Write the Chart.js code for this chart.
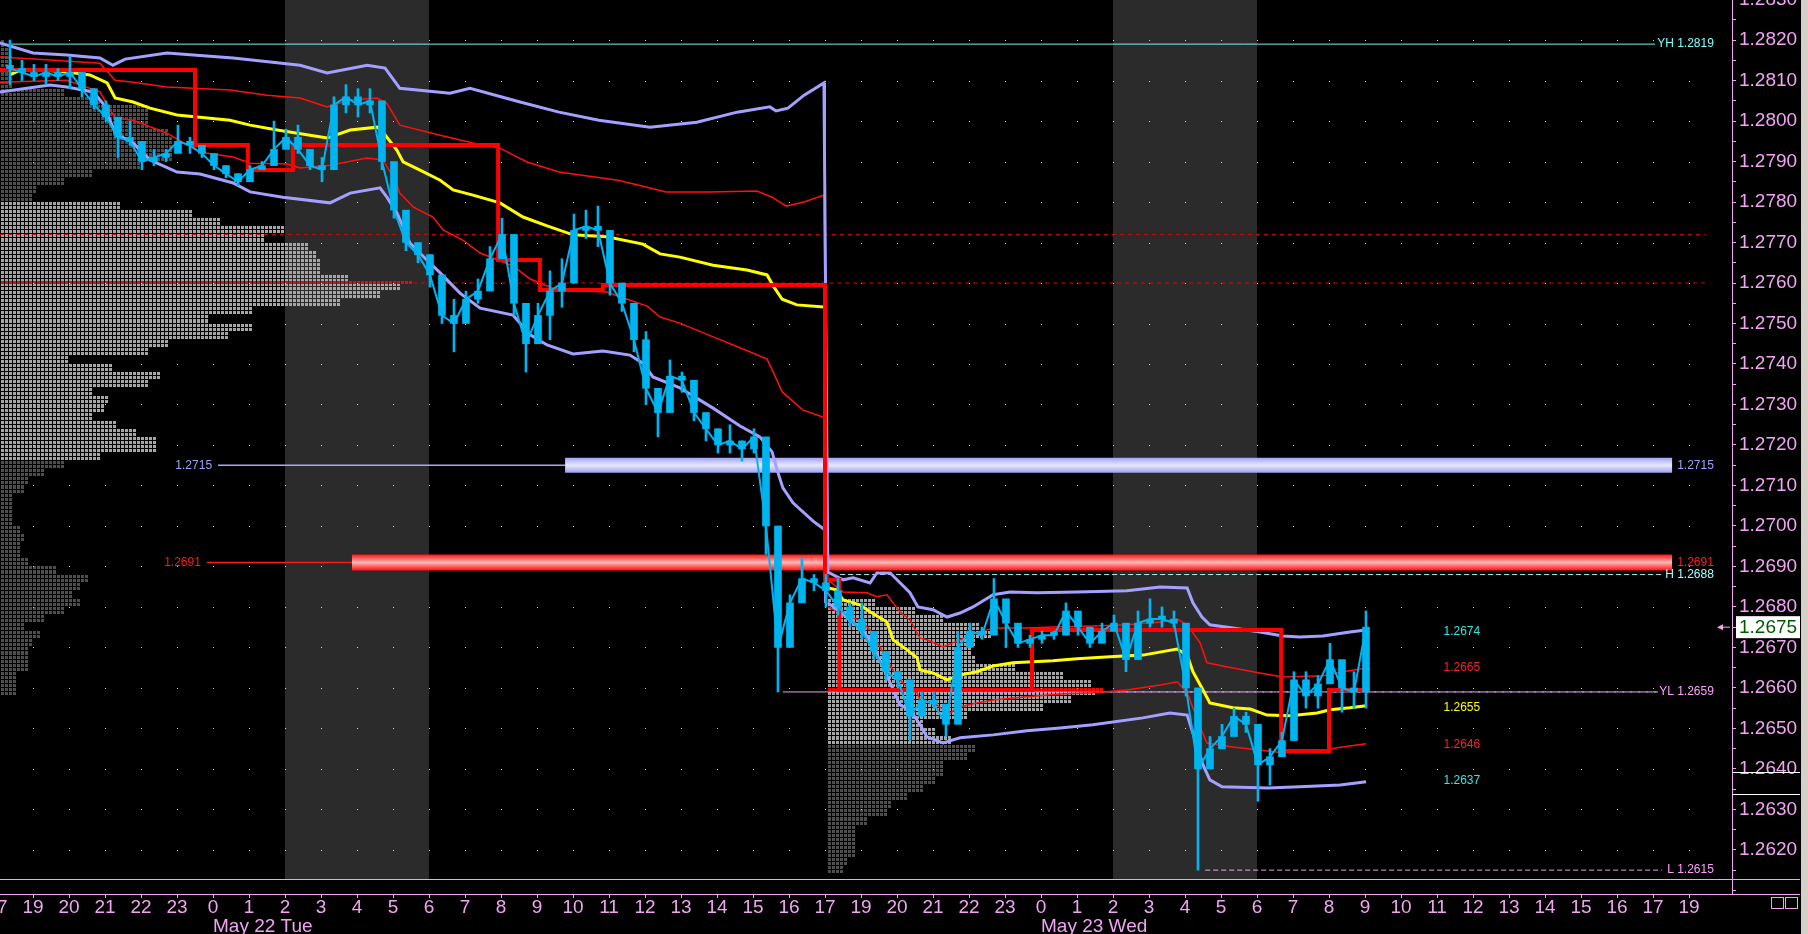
<!DOCTYPE html>
<html>
<head>
<meta charset="utf-8">
<title>EUR/USD session profile</title>
<script src="https://cdn.jsdelivr.net/npm/chart.js@4.4.1/dist/chart.umd.min.js"></script>
<style>
  html, body { margin: 0; padding: 0; background: #000; overflow: hidden; }
  canvas { display: block; }
</style>
</head>
<body>
<canvas id="chart" width="1808" height="934"></canvas>
<script>
// x axis is in hours from May 22 00:00; the 18:00 hour is skipped by the session
const hourLabels = ['17', '19', '20', '21', '22', '23',
  '0', '1', '2', '3', '4', '5', '6', '7', '8', '9', '10', '11', '12', '13', '14', '15', '16', '17',
  '19', '20', '21', '22', '23',
  '0', '1', '2', '3', '4', '5', '6', '7', '8', '9', '10', '11', '12', '13', '14', '15', '16', '17',
  '19'];
const firstHour = -6;
const dateLabels = ['May 22 Tue', 'May 23 Wed'];
const dateLabelHours = [0, 23];
const priceTicks = [1.2620, 1.2630, 1.2640, 1.2650, 1.2660, 1.2670, 1.2680, 1.2690, 1.2700, 1.2710, 1.2720,
  1.2730, 1.2740, 1.2750, 1.2760, 1.2770, 1.2780, 1.2790, 1.2800, 1.2810, 1.2820, 1.2830];
const shadedSessions = [[2, 6], [25, 29]];
const sessionBreak = 17;

// 20 minute bars
const barStartHour = -5.64;
const barStepHours = 1 / 3;
const barHighs = [
  1.2820, 1.2815, 1.2814, 1.2814, 1.2813, 1.2816, 1.2812, 1.2808, 1.2805, 1.2798,
  1.2800, 1.2795, 1.2793, 1.2793, 1.2799, 1.2796, 1.2794, 1.2791, 1.2789, 1.2787,
  1.2789, 1.2790, 1.2800, 1.2798, 1.2799, 1.2792, 1.2791, 1.2806, 1.2809, 1.2808,
  1.2808, 1.2800, 1.2781, 1.2774, 1.2769, 1.2767, 1.2760, 1.2756, 1.2758, 1.2761,
  1.2769, 1.2776, 1.2761, 1.2750, 1.2755, 1.2763, 1.2766, 1.2777, 1.2778, 1.2779,
  1.2766, 1.2759, 1.2750, 1.2748, 1.2730, 1.2741, 1.2738, 1.2734, 1.2728, 1.2724,
  1.2725, 1.2721, 1.2724, 1.2716, 1.2690, 1.2683, 1.2692, 1.2688, 1.2688, 1.2687,
  1.2681, 1.2681, 1.2672, 1.2668, 1.2664, 1.2659, 1.2659, 1.2659, 1.2655, 1.2674,
  1.2676, 1.2675, 1.2687, 1.2679, 1.2673, 1.2673, 1.2674, 1.2674, 1.2681, 1.2677,
  1.2674, 1.2676, 1.2678, 1.2670, 1.2679, 1.2682, 1.2680, 1.2679, 1.2670, 1.2652,
  1.2648, 1.2651, 1.2655, 1.2654, 1.2645, 1.2645, 1.2649, 1.2664, 1.2664, 1.2663,
  1.2671, 1.2665, 1.2664, 1.2679];
const barLows = [
  1.2809, 1.2810, 1.2810, 1.2809, 1.2810, 1.2808, 1.2806, 1.2803, 1.2800, 1.2791,
  1.2794, 1.2788, 1.2789, 1.2790, 1.2794, 1.2792, 1.2791, 1.2788, 1.2786, 1.2784,
  1.2786, 1.2788, 1.2789, 1.2794, 1.2792, 1.2788, 1.2785, 1.2800, 1.2802, 1.2801,
  1.2802, 1.2788, 1.2776, 1.2768, 1.2765, 1.2759, 1.2750, 1.2743, 1.2752, 1.2755,
  1.2760, 1.2766, 1.2752, 1.2738, 1.2748, 1.2746, 1.2754, 1.2766, 1.2771, 1.2769,
  1.2757, 1.2753, 1.2743, 1.2730, 1.2722, 1.2734, 1.2733, 1.2726, 1.2721, 1.2718,
  1.2718, 1.2716, 1.2718, 1.2693, 1.2659, 1.2678, 1.2684, 1.2684, 1.2680, 1.2678,
  1.2675, 1.2672, 1.2667, 1.2662, 1.2660, 1.2647, 1.2655, 1.2655, 1.2648, 1.2656,
  1.2672, 1.2672, 1.2678, 1.2670, 1.2670, 1.2670, 1.2671, 1.2672, 1.2677, 1.2673,
  1.2670, 1.2672, 1.2674, 1.2664, 1.2668, 1.2675, 1.2675, 1.2675, 1.2658, 1.2615,
  1.2643, 1.2645, 1.2650, 1.2649, 1.2632, 1.2636, 1.2645, 1.2647, 1.2655, 1.2655,
  1.2665, 1.2654, 1.2655, 1.2655];
const barCloses = [
  1.2813, 1.2812, 1.2811, 1.2812, 1.2811, 1.2812, 1.2808, 1.2804, 1.2801, 1.2796,
  1.2795, 1.2790, 1.2791, 1.2792, 1.2795, 1.2794, 1.2792, 1.2789, 1.2787, 1.2785,
  1.2788, 1.2789, 1.2793, 1.2796, 1.2793, 1.2789, 1.2788, 1.2804, 1.2806, 1.2804,
  1.2805, 1.2790, 1.2778, 1.2770, 1.2767, 1.2762, 1.2752, 1.2750, 1.2756, 1.2758,
  1.2766, 1.2772, 1.2755, 1.2745, 1.2752, 1.2758, 1.2760, 1.2773, 1.2774, 1.2773,
  1.2760, 1.2755, 1.2746, 1.2734, 1.2728, 1.2737, 1.2736, 1.2728, 1.2724, 1.2720,
  1.2721, 1.2719, 1.2722, 1.2700, 1.2670, 1.2681, 1.2687, 1.2686, 1.2684, 1.2680,
  1.2677, 1.2674, 1.2669, 1.2664, 1.2662, 1.2653, 1.2657, 1.2656, 1.2651, 1.2670,
  1.2674, 1.2673, 1.2682, 1.2676, 1.2671, 1.2672, 1.2673, 1.2673, 1.2679, 1.2675,
  1.2671, 1.2674, 1.2676, 1.2667, 1.2676, 1.2677, 1.2677, 1.2676, 1.2660, 1.2640,
  1.2645, 1.2648, 1.2653, 1.2651, 1.2641, 1.2643, 1.2647, 1.2662, 1.2658, 1.2661,
  1.2667, 1.2660, 1.2659, 1.2675];

// session VWAP and deviation bands, [hour, price]
const vwapOne = [[-5.64, 1.28114], [-5.36, 1.28126], [-4.72, 1.28126], [-4.06, 1.28121], [-3.42, 1.28114],
  [-2.94, 1.28094], [-2.72, 1.28057], [-2.22, 1.28047], [-1.75, 1.28032], [-1.0, 1.28015], [0.47, 1.28002],
  [1.03, 1.2799], [1.78, 1.27978], [3.17, 1.27958], [3.81, 1.27978], [4.56, 1.27985], [4.72, 1.27973],
  [5.11, 1.27928], [5.28, 1.27899], [5.75, 1.27879], [6.31, 1.27854], [6.67, 1.2783], [7.22, 1.27817],
  [7.97, 1.27798], [8.61, 1.27763], [9.28, 1.27741], [10.0, 1.27719], [10.94, 1.27714], [11.94, 1.27696],
  [12.42, 1.27672], [12.97, 1.27664], [13.89, 1.27644], [14.83, 1.27632], [15.39, 1.2762], [15.56, 1.27593],
  [15.81, 1.2756], [16.22, 1.27546], [16.97, 1.27541]];
const vwapTwo = [[17.08, 1.26847], [17.33, 1.26842], [17.5, 1.26817], [17.97, 1.26805], [18.25, 1.26788],
  [18.72, 1.26763], [18.89, 1.26719], [19.28, 1.26694], [19.56, 1.26674], [19.64, 1.26644], [20.0, 1.26637],
  [20.39, 1.2662], [20.75, 1.26632], [21.22, 1.2664], [21.67, 1.26654], [22.22, 1.26662], [23.33, 1.26667],
  [24.0, 1.26672], [24.92, 1.26677], [25.83, 1.26681], [26.78, 1.26696], [27.06, 1.26681], [27.22, 1.2664],
  [27.5, 1.26595], [27.69, 1.26563], [28.33, 1.26551], [28.81, 1.26548], [29.28, 1.26533], [29.92, 1.26531],
  [30.67, 1.26538], [31.03, 1.26546], [31.58, 1.26551], [32.03, 1.26556]];
const outerHighOne = [[-5.92, 1.28193], [-5.0, 1.28168], [-4.06, 1.28163], [-3.14, 1.28156], [-2.78, 1.28138],
  [-2.44, 1.28153], [-1.28, 1.28168], [0.56, 1.28156], [2.42, 1.28138], [3.17, 1.28119], [4.28, 1.28138],
  [4.78, 1.28131], [5.19, 1.28081], [6.58, 1.28069], [7.14, 1.28081], [8.53, 1.28047], [9.61, 1.28022],
  [10.72, 1.28002], [12.14, 1.27985], [13.44, 1.27997], [14.56, 1.28022], [15.47, 1.28035], [15.64, 1.28025],
  [15.97, 1.28032], [16.42, 1.28064], [16.97, 1.28094]];
const outerHighTwo = [[17.08, 1.26886], [17.5, 1.26867], [17.78, 1.26872], [18.25, 1.26859], [18.44, 1.26884],
  [18.81, 1.26884], [19.0, 1.26867], [19.36, 1.26835], [19.58, 1.268], [20.0, 1.26793], [20.39, 1.26775],
  [20.75, 1.26785], [21.11, 1.268], [21.67, 1.2683], [22.14, 1.26837], [22.89, 1.26835], [24.0, 1.26837],
  [25.39, 1.2684], [26.31, 1.26849], [27.06, 1.26847], [27.22, 1.2681], [27.47, 1.26775], [27.69, 1.26756],
  [28.33, 1.26748], [29.08, 1.26738], [29.72, 1.26728], [30.19, 1.26726], [30.83, 1.26728], [31.58, 1.26738],
  [32.03, 1.26743]];
const outerLowOne = [[-5.92, 1.28072], [-4.53, 1.28089], [-4.06, 1.28084], [-3.33, 1.28072], [-3.06, 1.28044],
  [-2.86, 1.28002], [-2.72, 1.2797], [-2.22, 1.27946], [-1.75, 1.27904], [-1.0, 1.27874], [-0.36, 1.27869],
  [0.56, 1.27847], [1.03, 1.27825], [1.94, 1.27812], [3.25, 1.27798], [3.81, 1.27822], [4.64, 1.27835],
  [4.83, 1.27812], [5.11, 1.27773], [5.47, 1.27699], [5.94, 1.27657], [6.31, 1.27625], [6.86, 1.27575],
  [7.42, 1.27538], [8.33, 1.27521], [8.81, 1.27472], [9.28, 1.27447], [10.0, 1.27425], [10.83, 1.27432],
  [11.58, 1.27422], [11.94, 1.27402], [12.22, 1.27368], [12.97, 1.27341], [13.89, 1.27291], [14.64, 1.27247],
  [15.19, 1.2722], [15.53, 1.27183], [15.67, 1.27138], [15.83, 1.27094], [16.11, 1.27057], [16.67, 1.27012],
  [17.0, 1.2699]];
const outerLowTwo = [[17.08, 1.2681], [17.42, 1.26788], [17.97, 1.26748], [18.25, 1.26719], [18.67, 1.2664],
  [19.08, 1.26558], [19.36, 1.26546], [19.64, 1.26509], [19.83, 1.26479], [20.28, 1.26464], [20.75, 1.26477],
  [21.67, 1.26484], [22.61, 1.26494], [23.53, 1.26501], [24.44, 1.26509], [25.83, 1.26526], [26.58, 1.26538],
  [27.06, 1.26533], [27.28, 1.26472], [27.5, 1.2641], [27.69, 1.26373], [28.03, 1.26356], [29.31, 1.26353],
  [30.19, 1.26356], [31.31, 1.2636], [32.03, 1.26368]];
const innerHighOne = [[-5.92, 1.28158], [-4.53, 1.28151], [-3.14, 1.28143], [-2.72, 1.28101], [-2.22, 1.28096],
  [-1.28, 1.28084], [0.47, 1.28077], [1.5, 1.28064], [2.42, 1.28057], [3.17, 1.28035], [3.81, 1.28052],
  [4.56, 1.28057], [4.83, 1.28044], [5.06, 1.2801], [5.19, 1.2799], [6.31, 1.27965], [7.22, 1.27946],
  [7.97, 1.27933], [8.72, 1.27899], [9.61, 1.27874], [11.25, 1.27854], [12.03, 1.27837], [12.58, 1.27825],
  [13.78, 1.27825], [15.11, 1.27827], [15.53, 1.27812], [15.92, 1.2779], [16.42, 1.278], [16.97, 1.27817]];
const innerHighTwo = [[17.08, 1.26867], [17.5, 1.26837], [18.17, 1.26835], [18.44, 1.26825], [18.72, 1.2683],
  [18.89, 1.2681], [19.08, 1.26788], [19.36, 1.26768], [19.64, 1.26723], [19.83, 1.26719], [20.28, 1.26701],
  [20.75, 1.26719], [21.22, 1.26736], [21.67, 1.26748], [22.61, 1.26748], [23.53, 1.26751], [24.44, 1.26753],
  [25.39, 1.26756], [26.31, 1.26763], [26.78, 1.2677], [27.06, 1.26756], [27.42, 1.26711], [27.61, 1.26662],
  [28.33, 1.26649], [29.08, 1.26637], [29.72, 1.26627], [30.83, 1.2663], [31.39, 1.2664], [32.03, 1.26649]];
const innerLowOne = [[-5.92, 1.28096], [-4.06, 1.28101], [-3.14, 1.28072], [-2.72, 1.28007], [-2.22, 1.28002],
  [-1.28, 1.2797], [-0.36, 1.27923], [0.56, 1.27911], [1.03, 1.27896], [2.06, 1.27894], [2.42, 1.27884],
  [3.25, 1.27891], [4.28, 1.27909], [4.72, 1.27904], [5.06, 1.27854], [5.19, 1.27822], [5.56, 1.27788],
  [6.11, 1.27763], [6.39, 1.27731], [6.94, 1.27706], [7.42, 1.27674], [8.33, 1.27642], [8.81, 1.2761],
  [9.56, 1.27583], [10.94, 1.27578], [11.5, 1.2756], [12.06, 1.27543], [12.42, 1.27516], [12.97, 1.27501],
  [13.89, 1.27467], [14.64, 1.2744], [15.39, 1.27412], [15.56, 1.2738], [15.81, 1.27331], [16.39, 1.27286],
  [16.94, 1.27269]];
const innerLowTwo = [[17.08, 1.268], [17.61, 1.26775], [17.97, 1.26768], [18.25, 1.26743], [18.53, 1.26701],
  [18.72, 1.26669], [18.89, 1.26644], [19.08, 1.2662], [19.36, 1.26595], [19.56, 1.26588], [19.64, 1.2657],
  [20.0, 1.26563], [20.47, 1.26538], [20.75, 1.26553], [21.22, 1.26563], [21.67, 1.2657], [22.61, 1.26578],
  [23.53, 1.26585], [24.44, 1.26588], [25.39, 1.26595], [26.31, 1.26607], [26.78, 1.26615], [27.06, 1.26588],
  [27.42, 1.26504], [27.61, 1.26464], [28.33, 1.26454], [29.72, 1.2644], [30.67, 1.26442], [31.22, 1.26452],
  [32.03, 1.26462]];
const resetOuter = [[17.0, 1.28094], [17.0, 1.2681]];
const resetInner = [[16.99, 1.27817], [16.99, 1.2725]];

// developing point of control, level starting at each hour
const pocStepHours = [-5.92, -0.5, 0.97, 2.22, 7.92, 9.08, 10.83, 17.0, 17.4, 22.75, 29.67, 31.0, 32.03];
const pocStepPrices = [1.28126, 1.27941, 1.27879, 1.27941, 1.27657, 1.27583, 1.27595, 1.26867, 1.26595,
  1.26743, 1.26444, 1.26595, 1.26595];

// market profile, counts per 2 pip row from the top price down
const profileOneStart = -5.9;
const profileOneTop = 1.2820;
const profileOneRows = [1, 2, 3, 3, 3, 3, 16, 25, 37, 37, 37, 42, 43, 43, 43, 35, 23, 16, 9, 8,
  30, 48, 55, 71, 66, 77, 79, 80, 80, 87, 100, 95, 85, 63, 52, 63, 57, 42, 37, 17, 28, 40, 37, 23, 27, 26,
  23, 29, 34, 39, 39, 25,
  16, 11, 7, 6, 3, 3, 3, 3, 5, 6, 5, 5, 7, 14, 22, 20, 18, 20, 16, 11, 6, 10, 8, 7, 7, 7, 4, 4, 4];
const profileOneValueArea = [1.2780, 1.2716];
const profileOnePoc = 1.2760;
const profileOnePocCells = 103;
const profileTwoStart = 17.08;
const profileTwoTop = 1.2682;
const profileTwoRows = [12, 22, 29, 38, 41, 37, 36, 37, 47, 59, 66, 67, 61, 54, 35, 24, 27, 31,
  37, 35, 29, 29, 27, 24, 20, 16, 15, 10, 7, 7, 7, 7, 5, 4];
const profileTwoValueArea = [1.2682, 1.2646];
const profileTwoPoc = 1.26595;
const profileTwoPocCells = 69;

// reference levels
const yesterdayHigh = 1.2819;
const yesterdayLow = 1.2659;
const sessionHigh = 1.2688;
const sessionLow = 1.2615;
const supportZone = 1.2715;
const resistanceZone = 1.2691;
const valueHighOne = 1.2772;
const bandEndValues = [1.2674, 1.2665, 1.2655, 1.2646, 1.2637];
const axisMarks = [1.26393, 1.26338];
const panelFloor = 1.26128;

const pink = '#f2a4f2';
const cyan = '#00b4f0';
const axisFont = { family: 'Liberation Sans', size: 19, lineHeight: 1 };

function pts(list) { return list.map(([x, y]) => ({ x, y })); }
function joined(a, b, gap) {
  return gap ? [...pts(a), { x: sessionBreak, y: null }, ...pts(b)] : [...pts(a), ...pts(b)];
}
function lineSet(data, color, width, order, extra) {
  return Object.assign({ type: 'line', data, borderColor: color, borderWidth: width, pointRadius: 0,
    fill: false, tension: 0, order }, extra || {});
}
function level(price, from, to, color, width, order, extra) {
  return lineSet([{ x: from, y: price }, { x: to, y: price }], color, width, order, extra);
}
function zoneColor(price, stops) {
  return (c) => {
    const chart = c.chart;
    if (!chart.chartArea || !chart.scales.y) return stops[1][1];
    const yc = chart.scales.y.getPixelForValue(price);
    const g = chart.ctx.createLinearGradient(0, yc - 8, 0, yc + 8);
    stops.forEach(([o, col]) => g.addColorStop(o, col));
    return g;
  };
}

const barHours = barCloses.map((_, i) => barStartHour + i * barStepHours);
const wickData = barHours.map((x, i) => ({ x, y: [barLows[i], barHighs[i]] }));
const bodyData = barHours.map((x, i) => ({ x, y: [i ? barCloses[i - 1] : barCloses[0], barCloses[i]] }));
const closeData = barHours.map((x, i) => ({ x, y: barCloses[i] }));
const pocData = pocStepHours.map((x, i) => ({ x, y: pocStepPrices[i] }));

const blueStops = [[0, '#9c9cf0'], [0.5, '#e8e8ff'], [1, '#9c9cf0']];
const redStops = [[0, '#ff1010'], [0.5, '#ffb8b8'], [1, '#ff1010']];

const datasets = [
  { type: 'bar', data: bodyData, backgroundColor: cyan, barThickness: 7, minBarLength: 3, grouped: false, order: 0 },
  { type: 'bar', data: wickData, backgroundColor: cyan, barThickness: 2, grouped: false, order: 0 },
  lineSet(closeData, cyan, 2, 0),
  lineSet(pocData, '#ff0000', 4, 1, { stepped: 'before' }),
  lineSet(joined(vwapOne, vwapTwo, true), '#ffff00', 3, 2),
  lineSet(joined(outerHighOne, outerHighTwo, false), '#a4a0ff', 3, 3),
  lineSet(joined(outerLowOne, outerLowTwo, true), '#a4a0ff', 3, 3),
  lineSet(pts(resetOuter), '#a4a0ff', 2, 3),
  lineSet(joined(innerHighOne, innerHighTwo, false), '#ff1010', 1.5, 3),
  lineSet(joined(innerLowOne, innerLowTwo, true), '#ff1010', 1.5, 3),
  lineSet(pts(resetInner), '#ff1010', 1.5, 3),
  level(yesterdayHigh, -5.6, 40.06, '#80f0f0', 1, 5),
  level(sessionHigh, 17.42, 40.25, '#a8f0f0', 1, 5, { borderDash: [5, 3] }),
  level(yesterdayLow, 15.83, 40.14, '#f0a0f0', 1, 5),
  level(yesterdayLow, 24.7, 40.14, '#70c8e8', 1, 5, { borderDash: [2, 6] }),
  level(sessionLow, 27.56, 40.25, '#f0a0f0', 1, 5, { borderDash: [5, 3] }),
  level(valueHighOne, -5.92, 41.44, '#e00000', 1, 5, { borderDash: [4, 4] }),
  level(profileOnePoc, 5.56, 41.44, '#e00000', 1, 5, { borderDash: [4, 4] }),
  level(supportZone, 9.78, 40.53, zoneColor(supportZone, blueStops), 15, 8, { borderCapStyle: 'butt' }),
  level(supportZone, 0.14, 9.78, '#a8a8f8', 1.5, 8),
  level(resistanceZone, 3.86, 40.53, zoneColor(resistanceZone, redStops), 16, 8, { borderCapStyle: 'butt' }),
  level(resistanceZone, -0.17, 3.86, '#ff1a1a', 1.5, 8)
];

function drawProfile(chart, start, top, rows, area, poc, pocCells) {
  const { ctx, scales: { x, y } } = chart;
  const pip = 0.0001;
  const cell = 1 / 9;
  const cellsAt = (count, priceTop) => {
    const y0 = Math.round(y.getPixelForValue(priceTop));
    const y1 = Math.round(y.getPixelForValue(priceTop - pip));
    for (let c = 0; c < count; c++) {
      const x0 = Math.round(x.getPixelForValue(start + c * cell));
      const x1 = Math.round(x.getPixelForValue(start + (c + 1) * cell));
      ctx.fillRect(x0, y0, Math.max(1, x1 - x0 - 1), Math.max(1, y1 - y0 - 1));
    }
  };
  rows.forEach((count, r) => {
    const rowTop = top - r * 2 * pip;
    const inArea = rowTop < area[0] + 1e-7 && rowTop > area[1] + 1e-7;
    ctx.fillStyle = inArea ? '#a6a6a6' : '#4e4e4e';
    cellsAt(count, rowTop);
    cellsAt(count, rowTop - pip);
  });
  ctx.fillStyle = '#ff0000';
  cellsAt(pocCells, poc + pip / 2);
}

const underlay = {
  id: 'underlay',
  beforeDraw(chart) {
    const { ctx, width, height } = chart;
    ctx.save();
    ctx.fillStyle = '#000';
    ctx.fillRect(0, 0, width, height);
    ctx.fillStyle = '#d4d0c8';
    ctx.fillRect(width - 7, 0, 7, height);
    ctx.restore();
  },
  beforeDatasetsDraw(chart) {
    const { ctx, chartArea, scales: { x, y } } = chart;
    ctx.save();
    const floor = y.getPixelForValue(panelFloor);
    ctx.fillStyle = '#2b2b2b';
    shadedSessions.forEach(([a, b]) => {
      const x0 = Math.round(x.getPixelForValue(a));
      const x1 = Math.round(x.getPixelForValue(b));
      ctx.fillRect(x0, chartArea.top, x1 - x0, floor - chartArea.top);
    });
    drawProfile(chart, profileOneStart, profileOneTop, profileOneRows, profileOneValueArea, profileOnePoc, profileOnePocCells);
    drawProfile(chart, profileTwoStart, profileTwoTop, profileTwoRows, profileTwoValueArea, profileTwoPoc, profileTwoPocCells);
    ctx.fillStyle = '#d0d0d0';
    hourLabels.forEach((_, i) => {
      const px = Math.round(x.getPixelForValue(firstHour + i));
      if (px < chartArea.left || px > chartArea.right) return;
      priceTicks.forEach(p => {
        const py = Math.round(y.getPixelForValue(p));
        if (py > chartArea.top) ctx.fillRect(px, py, 1, 1);
      });
    });
    ctx.restore();
  }
};

function label(ctx, str, px, py, color, align) {
  ctx.fillStyle = color;
  ctx.textAlign = align;
  ctx.fillText(str, px, py);
}

const annotations = {
  id: 'annotations',
  afterDatasetsDraw(chart) {
    const { ctx, scales: { x, y } } = chart;
    ctx.save();
    ctx.font = '12px "Liberation Sans"';
    ctx.textBaseline = 'middle';
    label(ctx, supportZone.toFixed(4), x.getPixelForValue(0.14) - 6, y.getPixelForValue(supportZone), '#a0a0ff', 'right');
    label(ctx, resistanceZone.toFixed(4), x.getPixelForValue(-0.17) - 6, y.getPixelForValue(resistanceZone), '#ff1a1a', 'right');
    const rx = x.getPixelForValue(41.69);
    const right = [
      ['YH ' + yesterdayHigh.toFixed(4), yesterdayHigh, '#80ffff'],
      [supportZone.toFixed(4), supportZone, '#a0a0ff'],
      [resistanceZone.toFixed(4), resistanceZone, '#ff2020'],
      ['H ' + sessionHigh.toFixed(4), sessionHigh, '#a0ffff'],
      ['YL ' + yesterdayLow.toFixed(4), yesterdayLow, '#ffa0ff'],
      ['L ' + sessionLow.toFixed(4), sessionLow, '#ffa0ff']
    ];
    right.forEach(([s, p, c]) => label(ctx, s, rx, y.getPixelForValue(p), c, 'right'));
    const colors = ['#30e8e8', '#ff2020', '#ffff00', '#ff2020', '#30e8e8'];
    const cx = x.getPixelForValue(34.69);
    bandEndValues.forEach((v, i) => label(ctx, v.toFixed(4), cx, y.getPixelForValue(v), colors[i], 'center'));
    ctx.restore();
  },
  afterDraw(chart) {
    const { ctx, chartArea, width, scales: { x, y } } = chart;
    ctx.save();
    ctx.strokeStyle = pink;
    ctx.lineWidth = 1;
    const floor = Math.round(y.getPixelForValue(panelFloor)) + 0.5;
    ctx.beginPath();
    ctx.moveTo(chartArea.left, floor);
    ctx.lineTo(width - 8, floor);
    ctx.moveTo(chartArea.right, chartArea.bottom + 0.5);
    ctx.lineTo(width - 8, chartArea.bottom + 0.5);
    ctx.stroke();
    ctx.strokeStyle = '#ffffff';
    ctx.beginPath();
    axisMarks.forEach(p => {
      const py = Math.round(y.getPixelForValue(p)) + 0.5;
      ctx.moveTo(y.left, py);
      ctx.lineTo(width - 8, py);
    });
    ctx.stroke();
    // last price tag
    const last = barCloses[barCloses.length - 1];
    const py = y.getPixelForValue(last);
    ctx.fillStyle = '#ffffff';
    ctx.fillRect(y.left + 4, py - 11, width - 8 - (y.left + 4), 22);
    ctx.font = '19px "Liberation Sans"';
    ctx.textBaseline = 'middle';
    label(ctx, last.toFixed(4), y.left + 7, py + 1, '#005a00', 'left');
    ctx.fillStyle = pink;
    ctx.beginPath();
    ctx.moveTo(chartArea.right - 15, py);
    ctx.lineTo(chartArea.right - 9, py - 3);
    ctx.lineTo(chartArea.right - 9, py + 3);
    ctx.closePath();
    ctx.fill();
    ctx.fillRect(chartArea.right - 10, py - 0.5, 8, 1);
    // date labels
    ctx.font = '19px "Liberation Sans"';
    dateLabels.forEach((s, i) => label(ctx, s, x.getPixelForValue(dateLabelHours[i]), chartArea.bottom + 33, pink, 'left'));
    ctx.strokeStyle = pink;
    ctx.strokeRect(width - 36.5, chartArea.bottom + 3.5, 12, 11);
    ctx.strokeRect(width - 22.5, chartArea.bottom + 3.5, 12, 11);
    ctx.restore();
  }
};

new Chart(document.getElementById('chart'), {
  type: 'line',
  data: { datasets },
  options: {
    responsive: false,
    animation: false,
    devicePixelRatio: 1,
    events: [],
    layout: { padding: 0 },
    plugins: { legend: { display: false }, tooltip: { enabled: false }, title: { display: false } },
    scales: {
      x: {
        type: 'linear',
        min: -5.917,
        max: 42.194,
        offset: false,
        grid: { drawOnChartArea: false, offset: false, tickLength: 4, color: pink },
        border: { color: pink },
        ticks: { autoSkip: false, maxRotation: 0, padding: 0, color: pink, font: axisFont,
          callback: (value, index) => hourLabels[index] },
        afterBuildTicks: (s) => { s.ticks = hourLabels.map((_, i) => ({ value: firstHour + i })); },
        afterFit: (s) => { s.height = 40; s.paddingLeft = 0; s.paddingRight = 0; }
      },
      y: {
        type: 'linear',
        position: 'right',
        min: 1.26091,
        max: 1.28299,
        beginAtZero: false,
        grid: { drawOnChartArea: false, tickLength: 4, color: pink },
        border: { color: pink },
        ticks: { autoSkip: false, padding: 3, color: pink, font: axisFont,
          callback: (value) => priceTicks.some(p => Math.abs(p - value) < 1e-7) ? value.toFixed(4) : '' },
        afterBuildTicks: (s) => {
          const t = [{ value: 1.2610 }, { value: 1.2615 }];
          priceTicks.forEach((p, i) => {
            t.push({ value: p });
            if (i < priceTicks.length - 1) t.push({ value: p + 0.0005 });
          });
          s.ticks = t;
        },
        afterFit: (s) => { s.width = 76; s.paddingTop = 0; s.paddingBottom = 0; }
      }
    }
  },
  plugins: [underlay, annotations]
});
</script>
</body>
</html>
